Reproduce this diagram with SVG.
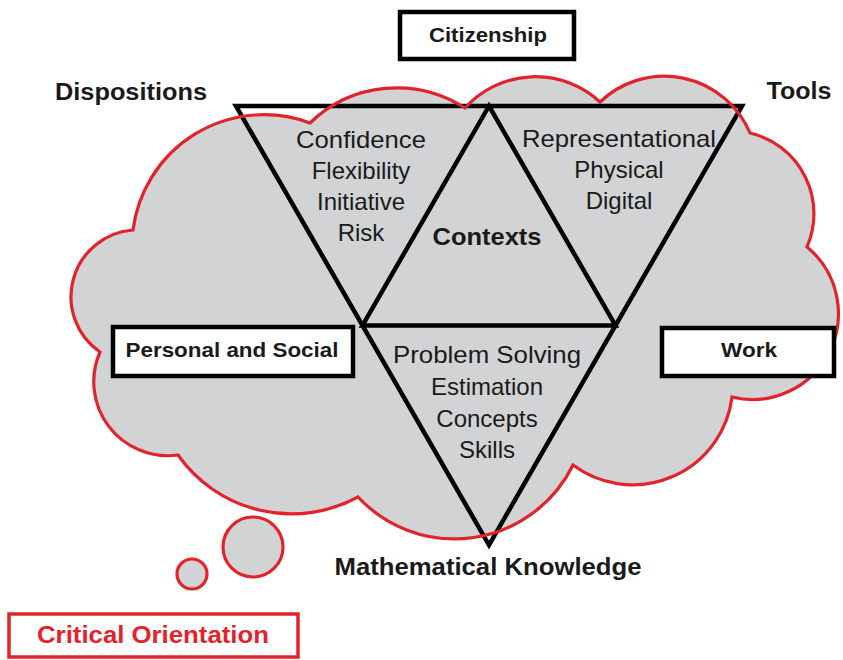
<svg xmlns="http://www.w3.org/2000/svg" width="843" height="660" viewBox="0 0 843 660">
<defs>
<style>
.t{font-family:"Liberation Sans",Arial,sans-serif;fill:#1a1a1a;text-anchor:middle}
.b{font-weight:bold}
.r{font-size:24px}
.cloudfill{fill:#d1d3d4;stroke:none}
.cloudline{fill:none;stroke:#e3232a;stroke-width:3.2;stroke-linejoin:miter}
.tri{fill:none;stroke:#000;stroke-width:4.5;stroke-linejoin:miter}
.box{fill:#fff;stroke:#000;stroke-width:4.5}
.rbox{fill:#fff;stroke:#e3232a;stroke-width:3.5}
.bub{fill:#d1d3d4;stroke:#e3232a;stroke-width:3.2}
</style>
<path id="cloudShape" d="M133,230 A132,132 0 0 1 310,123 A125,125 0 0 1 465,108 A95,95 0 0 1 600,102 A93,93 0 0 1 750,133 A83,83 0 0 1 807,247 A86,86 0 0 1 732,397 A100,100 0 0 1 573,465 A132,132 0 0 1 358,497 A139,139 0 0 1 178,455 A74,74 0 0 1 100,352 A67,67 0 0 1 133,230 Z"/>
</defs>
<rect width="843" height="660" fill="#fff"/>
<g id="cloud">
<use href="#cloudShape" class="cloudfill"/>
</g>
<g id="connectors">
<polygon class="tri" points="236,106 742,106 489,545"/>
<polygon class="tri" points="489,106 362.5,325.5 615.5,325.5"/>
</g>
<g id="cloud-outline">
<use href="#cloudShape" class="cloudline"/>
<circle class="bub" cx="253" cy="547" r="30"/>
<circle class="bub" cx="192" cy="574" r="15"/>
</g>
<g id="dispositions">
<text class="t b" x="131" y="100" font-size="23" textLength="152" lengthAdjust="spacingAndGlyphs">Dispositions</text>
<text class="t r" x="361" y="148" textLength="130" lengthAdjust="spacingAndGlyphs">Confidence</text>
<text class="t r" x="361" y="179">Flexibility</text>
<text class="t r" x="361" y="210">Initiative</text>
<text class="t r" x="361" y="241">Risk</text>
</g>
<g id="tools">
<text class="t b" x="799" y="99" font-size="23" textLength="65" lengthAdjust="spacingAndGlyphs">Tools</text>
<text class="t r" x="619" y="147" textLength="194" lengthAdjust="spacingAndGlyphs">Representational</text>
<text class="t r" x="619" y="178">Physical</text>
<text class="t r" x="619" y="209">Digital</text>
</g>
<g id="contexts">
<text class="t b" x="487" y="245" font-size="24" textLength="109" lengthAdjust="spacingAndGlyphs">Contexts</text>
</g>
<g id="math-knowledge">
<text class="t r" x="487" y="363" textLength="188" lengthAdjust="spacingAndGlyphs">Problem Solving</text>
<text class="t r" x="487" y="395">Estimation</text>
<text class="t r" x="487" y="427">Concepts</text>
<text class="t r" x="487" y="458">Skills</text>
<text class="t b" x="488" y="575" font-size="23" textLength="307" lengthAdjust="spacingAndGlyphs">Mathematical Knowledge</text>
</g>
<g id="citizenship">
<rect class="box" x="400" y="12" width="174" height="47"/>
<text class="t b" x="488" y="42" font-size="21" textLength="118" lengthAdjust="spacingAndGlyphs">Citizenship</text>
</g>
<g id="personal-social">
<rect class="box" x="113" y="327" width="240" height="49"/>
<text class="t b" x="232" y="357" font-size="21" textLength="213" lengthAdjust="spacingAndGlyphs">Personal and Social</text>
</g>
<g id="work">
<rect class="box" x="662" y="328" width="172" height="48"/>
<text class="t b" x="749" y="357" font-size="21" textLength="56" lengthAdjust="spacingAndGlyphs">Work</text>
</g>
<g id="critical-orientation">
<rect class="rbox" x="9" y="614" width="289" height="43"/>
<text class="t b" x="153" y="643" font-size="24" fill="#e3232a" style="fill:#e3232a" textLength="232" lengthAdjust="spacingAndGlyphs">Critical Orientation</text>
</g>
</svg>
